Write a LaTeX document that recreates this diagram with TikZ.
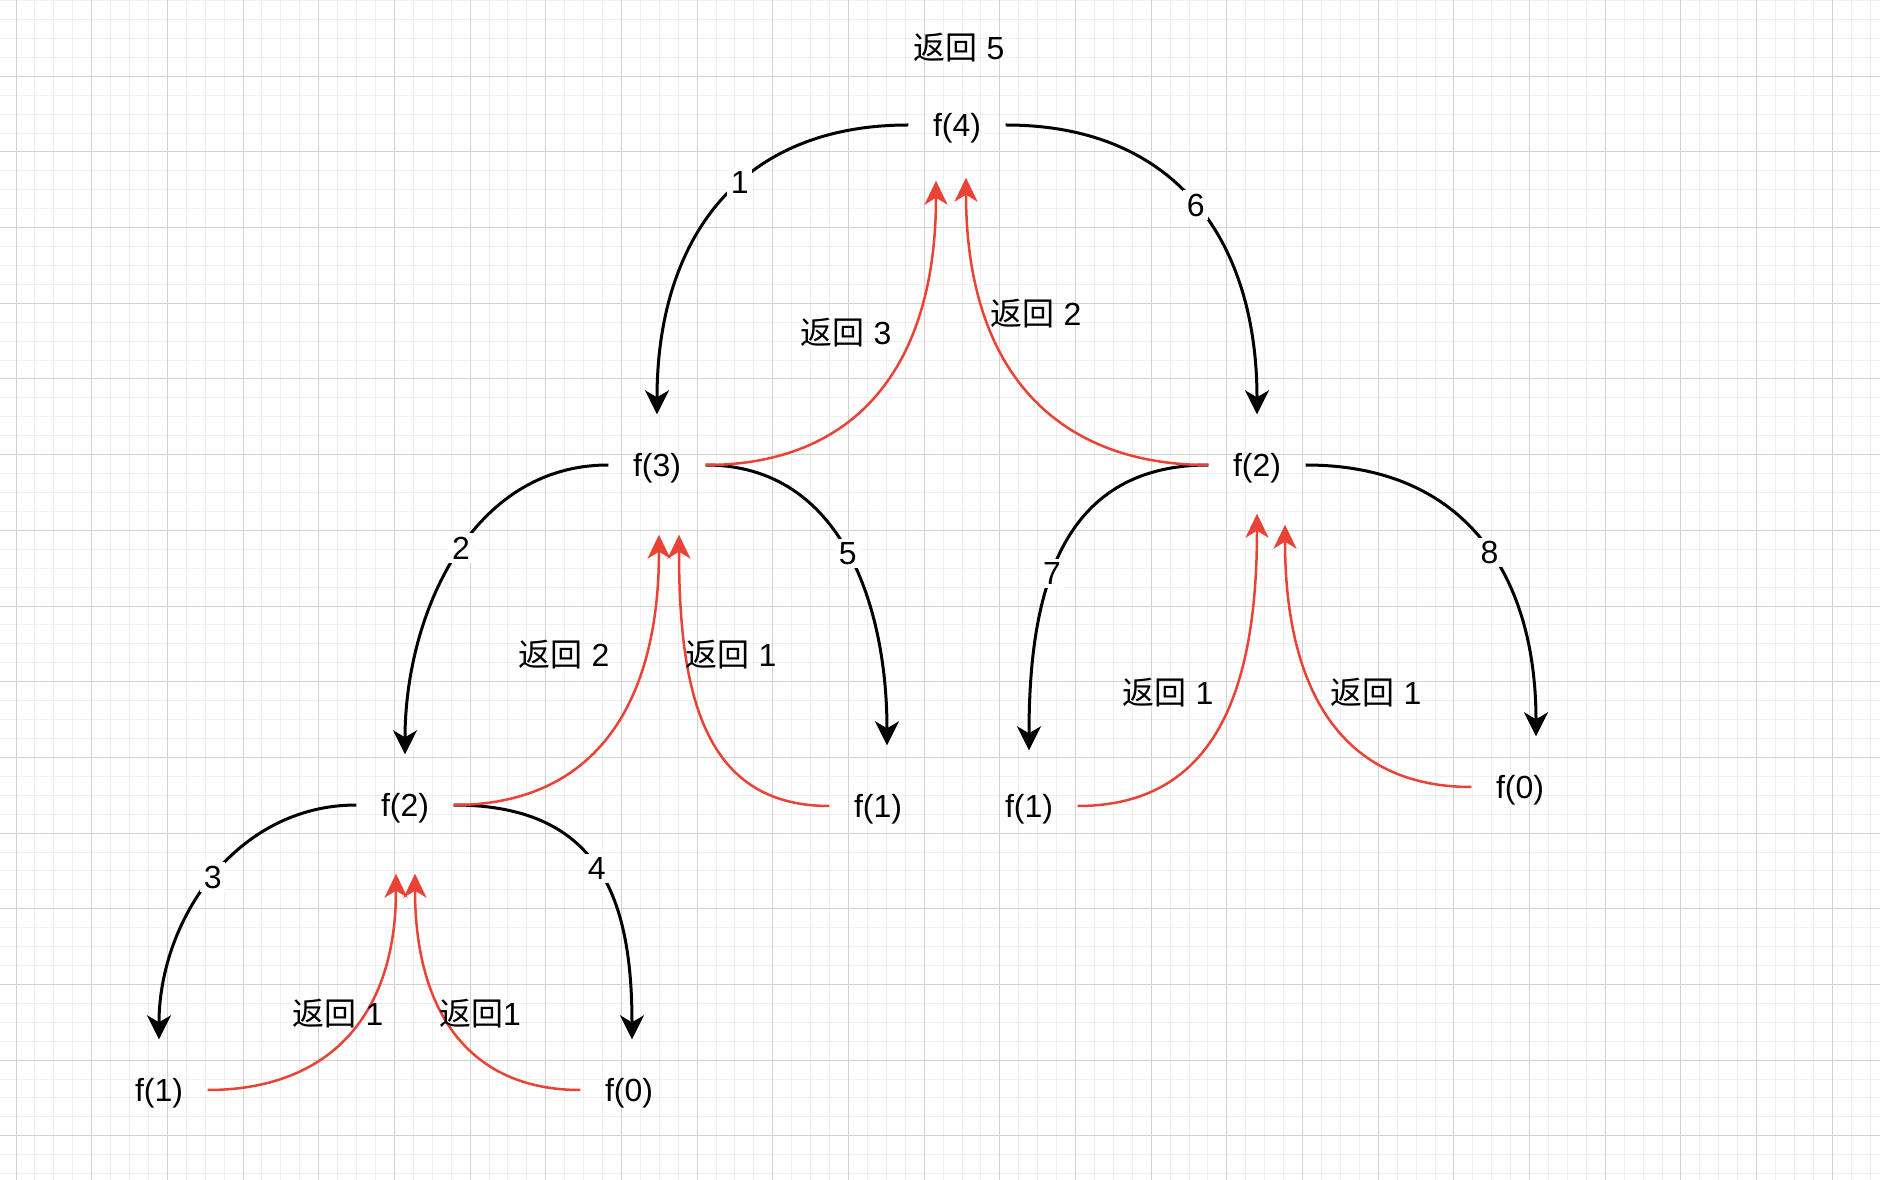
\documentclass[tikz,border=0pt]{standalone}
\usepackage{fontspec}
\setmainfont{Liberation Sans}
\newfontfamily\cjk{Noto Sans CJK SC}
\usepackage{xcolor}
\usepackage{tikz}
\usetikzlibrary{positioning,calc,arrows.meta}

\definecolor{retred}{HTML}{EA4335}
\definecolor{majorgrid}{HTML}{D2D2D2}
\definecolor{minorgrid}{HTML}{F0F0F0}

\tikzset{
  fnode/.style={minimum width=9.6mm, minimum height=10mm, inner sep=0pt, text depth=0pt,
    font=\fontsize{9.1}{11}\selectfont},
  callarrow/.style={line width=0.3mm, -{Stealth[length=2.4mm,width=2.4mm,inset=0.7mm]},
    looseness=1.15},
  retarrow/.style={retred, line width=0.25mm, -{Stealth[length=2.4mm,width=2.3mm,inset=0.7mm]},
    out looseness=1.03, in looseness=1.32},
  numlbl/.style={fill=white, inner sep=1pt, font=\fontsize{9.1}{11}\selectfont},
  retlbl/.style={inner sep=0pt, font=\fontsize{9.1}{11}\selectfont}
}

\begin{document}
\begin{tikzpicture}[x=0.1mm, y=-0.1mm]
    \useasboundingbox (0,0) rectangle (1880,1180);
    \fill[white] (0,0) rectangle (1880,1180);

    % Grid
    \foreach \i in {-1,...,99}
        \draw[minorgrid, line width=0.1mm] ({16+18.92*\i},0) -- ({16+18.92*\i},1180);
    \foreach \i in {0,...,62}
        \draw[minorgrid, line width=0.1mm] (0,{0.6+18.92*\i}) -- (1880,{0.6+18.92*\i});
    \foreach \i in {0,...,24}
        \draw[majorgrid, line width=0.1mm] ({16+75.68*\i},0) -- ({16+75.68*\i},1180);
    \foreach \i in {1,...,15}
        \draw[majorgrid, line width=0.1mm] (0,{0.6+75.68*\i}) -- (1880,{0.6+75.68*\i});

    % Calls
    \node[fnode] (f4) at (957,125) {f(4)};
    \node[fnode] (f3) at (657,465) {f(3)};
    \node[fnode] (f2r) at (1257,465) {f(2)};
    \node[fnode] (f2l) at (405,805) {f(2)};
    \node[fnode] (f1m) at (878,806) {f(1)};
    \node[fnode] (f1r) at (1029,806) {f(1)};
    \node[fnode] (f0r) at (1520,787) {f(0)};
    \node[fnode] (f1b) at (159,1090) {f(1)};
    \node[fnode] (f0b) at (629,1090) {f(0)};

    \node[retlbl] (r5) at (959,48) {{\cjk 返回} 5};

    % Call order
    \draw[callarrow] (f4.west) to[out=180,in=90] node[numlbl,pos=0.42] (n1) {1} (f3.north);
    \draw[callarrow,looseness=1] (f3.west) to[out=180,in=90] node[numlbl,pos=0.47] (n2) {2} (f2l.north);
    \draw[callarrow,looseness=1] (f2l.west) to[out=180,in=90] node[numlbl,pos=0.5] (n3) {3} (f1b.north);
    \draw[callarrow,looseness=1.25] (f2l.east) to[out=0,in=90] node[numlbl,pos=0.5] (n4) {4} ([xshift=0.3mm]f0b.north);
    \draw[callarrow,looseness=1.05] (f3.east) to[out=0,in=90] node[numlbl,pos=0.5] (n5) {5} ([xshift=0.9mm,yshift=1mm]f1m.north);
    \draw[callarrow] (f4.east) to[out=0,in=90] node[numlbl,pos=0.5] (n6) {6} (f2r.north);
    \draw[callarrow] (f2r.west) to[out=180,in=90] node[numlbl,pos=0.57] (n7) {7} ([yshift=0.5mm]f1r.north);
    \draw[callarrow] (f2r.east) to[out=0,in=90] node[numlbl,pos=0.54] (n8) {8} ([xshift=1.6mm]f0r.north);

    % Returns
    \draw[retarrow] (f3.east) to[out=0,in=-90] ([xshift=-2.1mm,yshift=-0.5mm]f4.south);
    \draw[retarrow] (f2r.west) to[out=180,in=-90] ([xshift=0.9mm,yshift=-0.2mm]f4.south);
    \draw[retarrow] (f2l.east) to[out=0,in=-90] ([xshift=0.2mm,yshift=-1.9mm]f3.south);
    \draw[retarrow] (f1m.west) to[out=180,in=-90] ([xshift=2.2mm,yshift=-1.9mm]f3.south);
    \draw[retarrow] (f1r.east) to[out=0,in=-90] ([yshift=0.2mm]f2r.south);
    \draw[retarrow] (f0r.west) to[out=180,in=-90] ([xshift=2.8mm,yshift=-0.9mm]f2r.south);
    \draw[retarrow] (f1b.east) to[out=0,in=-90] ([xshift=-0.9mm,yshift=-1.8mm]f2l.south);
    \draw[retarrow] (f0b.west) to[out=180,in=-90] ([xshift=1mm,yshift=-1.8mm]f2l.south);

    % Return labels
    \node[retlbl] (r3) at (846,333) {{\cjk 返回} 3};
    \node[retlbl] (r2a) at (1036,314) {{\cjk 返回} 2};
    \node[retlbl] (r2b) at (564,655) {{\cjk 返回} 2};
    \node[retlbl] (r1a) at (731,655) {{\cjk 返回} 1};
    \node[retlbl] (r1b) at (1168,693) {{\cjk 返回} 1};
    \node[retlbl] (r1c) at (1376,693) {{\cjk 返回} 1};
    \node[retlbl] (r1d) at (338,1014) {{\cjk 返回} 1};
    \node[retlbl] (r1e) at (480,1014) {{\cjk 返回}1};
\end{tikzpicture}
\end{document}
